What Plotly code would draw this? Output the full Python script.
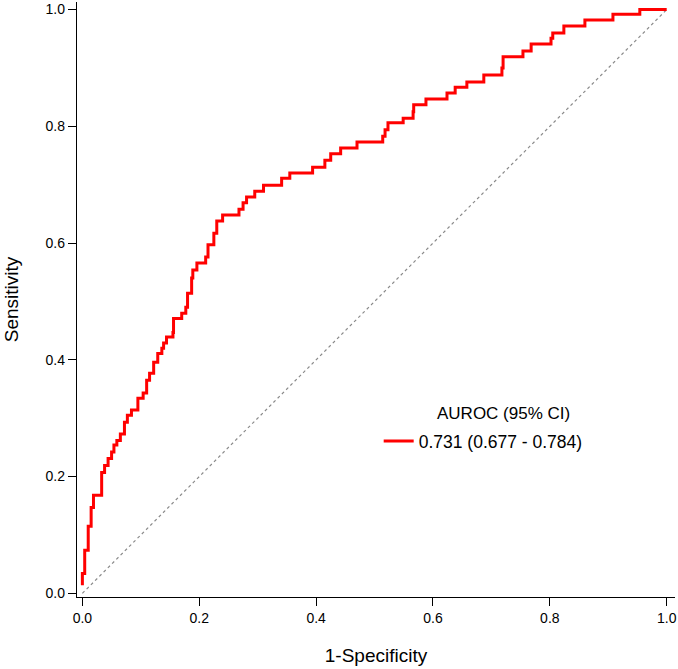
import plotly.graph_objects as go

# ROC curve step vertices (1-specificity at which each rise occurs, sensitivity after the rise)
fpr = [0.0, 0.0, 0.004, 0.010, 0.015, 0.019, 0.033, 0.038, 0.044, 0.050, 0.054, 0.059,
       0.065, 0.072, 0.077, 0.084, 0.095, 0.104, 0.110, 0.115, 0.122, 0.129, 0.136, 0.139,
       0.144, 0.155, 0.156, 0.170, 0.177, 0.180, 0.187, 0.189, 0.196, 0.211, 0.215, 0.225,
       0.230, 0.240, 0.268, 0.275, 0.281, 0.295, 0.310, 0.341, 0.355, 0.394, 0.415, 0.425,
       0.442, 0.470, 0.514, 0.518, 0.523, 0.549, 0.566, 0.567, 0.588, 0.624, 0.638, 0.658,
       0.687, 0.718, 0.720, 0.754, 0.768, 0.802, 0.805, 0.824, 0.860, 0.908, 0.954, 1.0]
tpr = [0.014, 0.034, 0.074, 0.115, 0.147, 0.168, 0.207, 0.219, 0.231, 0.242, 0.254, 0.262,
       0.273, 0.293, 0.305, 0.314, 0.334, 0.343, 0.365, 0.377, 0.396, 0.411, 0.420, 0.429,
       0.439, 0.447, 0.471, 0.480, 0.490, 0.514, 0.540, 0.554, 0.566, 0.576, 0.597, 0.617,
       0.638, 0.648, 0.658, 0.669, 0.679, 0.689, 0.699, 0.711, 0.720, 0.730, 0.742, 0.753,
       0.763, 0.773, 0.783, 0.794, 0.806, 0.814, 0.825, 0.837, 0.847, 0.857, 0.867, 0.876,
       0.888, 0.900, 0.919, 0.929, 0.941, 0.951, 0.960, 0.972, 0.982, 0.992, 1.0, 1.0]

ref_x = [0.0, 1.0]
ref_y = [0.0, 1.0]

tick_vals = [0.0, 0.2, 0.4, 0.6, 0.8, 1.0]
tick_text = ["0.0", "0.2", "0.4", "0.6", "0.8", "1.0"]

legend_title = "AUROC (95% CI)"
series_label = "0.731 (0.677 - 0.784)"

FONT = "Liberation Sans, Arial, sans-serif"

fig = go.Figure()
fig.add_trace(go.Scatter(
    x=ref_x, y=ref_y, mode="lines", showlegend=False, hoverinfo="skip",
    line=dict(color="#8a8a8a", width=1.2, dash="dot"),
))
fig.add_trace(go.Scatter(
    x=fpr, y=tpr, mode="lines", name=series_label,
    line=dict(color="#ff0000", width=3, shape="hv"),
))

axis_common = dict(
    showgrid=False, zeroline=False, showline=True, linecolor="black", linewidth=1.3,
    ticks="outside", ticklen=8, tickwidth=1.3, tickcolor="black",
    tickvals=tick_vals, ticktext=tick_text,
    tickfont=dict(family=FONT, size=14, color="black"),
    mirror=False,
)

fig.update_layout(
    width=678, height=669,
    margin=dict(l=77, r=3, t=2, b=72),
    paper_bgcolor="white", plot_bgcolor="white",
    font=dict(family=FONT, color="black"),
    xaxis=dict(range=[-0.0092, 1.0142],
               title=dict(text="1-Specificity", font=dict(family=FONT, size=19, color="black"), standoff=23),
               **axis_common),
    yaxis=dict(range=[-0.0063, 1.013],
               title=dict(text="Sensitivity", font=dict(family=FONT, size=19, color="black"), standoff=21),
               **axis_common),
    legend=dict(
        x=0.5045, y=0.262, xanchor="left", yanchor="middle",
        bgcolor="rgba(0,0,0,0)",
        font=dict(family=FONT, size=17.5, color="black"),
    ),
    showlegend=True,
    annotations=[dict(
        text=legend_title, xref="paper", yref="paper",
        x=0.7135, y=0.3085, xanchor="center", yanchor="middle",
        showarrow=False, font=dict(family=FONT, size=17, color="black"),
    )],
)

fig.write_html("out.html")
